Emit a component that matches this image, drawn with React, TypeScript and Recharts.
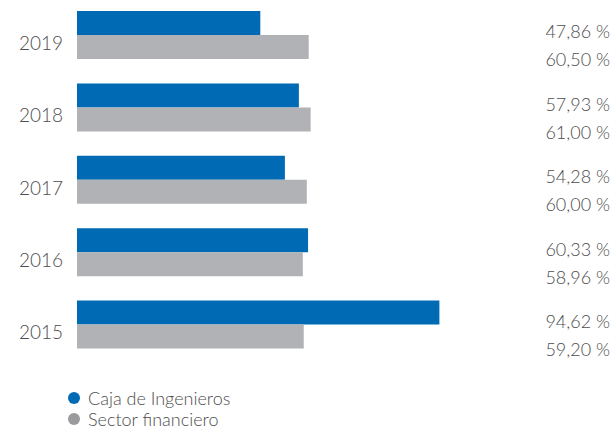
import React from "react";
import { Bar, BarChart, LabelList, XAxis, YAxis } from "recharts";

const years = ["2019", "2018", "2017", "2016", "2015"];
const caja = [47.86, 57.93, 54.28, 60.33, 94.62];
const sector = [60.5, 61.0, 60.0, 58.96, 59.2];

const BLUE = "#006ab5";
const GRAY = "#b1b2b6";
const TEXT = "#4d4d4d";
const FONT = "Lato, 'Open Sans', sans-serif";

const data = years.map((year, i) => ({ year, caja: caja[i], sector: sector[i] }));

const fmt = (v: number) => v.toFixed(2).replace(".", ",") + " %";

function YearTick(props: any): React.ReactElement {
  const { x, y, payload } = props;
  return (
    <text x={x - 6} y={y + 8} dy="0.35em" textAnchor="end" fontSize={19} fill={TEXT} fontFamily={FONT} fontWeight={300}>
      {payload.value}
    </text>
  );
}

function valueLabel(dy: number) {
  return (props: any): React.ReactElement => {
    const { y, height, value } = props;
    return (
      <text x={610} y={y + height / 2 + dy} dy="0.35em" textAnchor="end" fontSize={18} fill={TEXT} fontFamily={FONT} fontWeight={300}>
        {fmt(value)}
      </text>
    );
  };
}

const legendItems = [
  { name: "Caja de Ingenieros", color: BLUE },
  { name: "Sector financiero", color: "#9b9b9d" }
];

export default function App(): React.ReactElement {
  return (
    <div style={{ position: "absolute", left: 0, top: 0, width: 614, height: 430, background: "#fff" }}>
      <BarChart
        width={614}
        height={430}
        data={data}
        layout="vertical"
        margin={{ top: -1, right: 154, bottom: 69, left: 0 }}
        barGap={0}
        barSize={24}
      >
        <XAxis type="number" domain={[0, 100]} hide />
        <YAxis
          type="category"
          dataKey="year"
          width={77}
          axisLine={false}
          tickLine={false}
          tick={<YearTick />}
        />
        <Bar dataKey="caja" fill={BLUE} isAnimationActive={false}>
          <LabelList dataKey="caja" content={valueLabel(9)} />
        </Bar>
        <Bar dataKey="sector" fill={GRAY} isAnimationActive={false}>
          <LabelList dataKey="sector" content={valueLabel(13)} />
        </Bar>
      </BarChart>
      <div style={{ position: "absolute", left: 68, top: 391, fontFamily: FONT, fontSize: 18, lineHeight: "14px", color: TEXT, fontWeight: 300 }}>
        {legendItems.map((item) => (
          <div key={item.name} style={{ display: "flex", alignItems: "center", height: 14, marginBottom: 7 }}>
            <span style={{ width: 12, height: 12, borderRadius: 6, background: item.color, marginRight: 8 }} />
            {item.name}
          </div>
        ))}
      </div>
    </div>
  );
}
